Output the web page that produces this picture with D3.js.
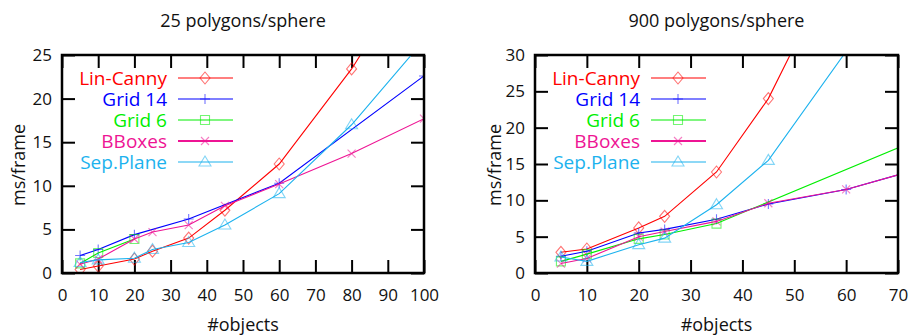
<!DOCTYPE html>
<html>
<head>
<meta charset="utf-8">
<script src="https://cdn.jsdelivr.net/npm/d3@7"></script>
<style>
  html, body { margin: 0; padding: 0; background: #fff; }
  svg { display: block; font-family: "Open Sans", "DejaVu Sans", sans-serif; }
</style>
</head>
<body>
<svg id="chart" width="910" height="336"></svg>
<script>
// ---- data: collision-detection cost per frame vs. number of objects ----
const seriesNames = ["Lin-Canny", "Grid 14", "Grid 6", "BBoxes", "Sep.Plane"];
const seriesColors = ["#ff0000", "#0000ff", "#00ee00", "#ee1494", "#1cb2ee"];
const seriesMarkers = ["diamond", "plus", "square", "cross", "triangle"];

// 25 polygons per sphere
const lowLinCannyX = [5, 10, 20, 25, 35, 45, 60, 80, 100];
const lowLinCannyY = [0.4, 0.8, 1.6, 2.5, 4.0, 7.2, 12.5, 23.4, 36.5];
const lowGrid14X = [5, 10, 20, 35, 60, 100];
const lowGrid14Y = [2.0, 2.7, 4.4, 6.2, 10.3, 22.6];
const lowGrid6X = [5, 10, 20];
const lowGrid6Y = [1.1, 2.3, 3.9];
const lowBBoxesX = [5, 10, 20, 25, 35, 45, 60, 80, 100];
const lowBBoxesY = [1.0, 1.6, 3.9, 4.7, 5.5, 7.7, 10.2, 13.7, 17.7];
const lowSepPlaneX = [5, 10, 20, 25, 35, 45, 60, 80, 100];
const lowSepPlaneY = [1.2, 1.5, 1.7, 2.7, 3.5, 5.5, 9.1, 17.0, 26.7];

// 900 polygons per sphere
const highLinCannyX = [5, 10, 20, 25, 35, 45, 60];
const highLinCannyY = [2.85, 3.3, 6.2, 7.8, 13.9, 24.0, 45.5];
const highGrid14X = [5, 10, 20, 25, 35, 45, 60, 80];
const highGrid14Y = [2.3, 3.0, 5.5, 6.0, 7.4, 9.5, 11.5, 15.5];
const highGrid6X = [5, 10, 20, 25, 35, 80];
const highGrid6Y = [1.6, 2.6, 4.7, 5.3, 6.8, 20.2];
const highBBoxesX = [5, 10, 20, 25, 35, 45, 60, 80];
const highBBoxesY = [1.3, 2.0, 5.0, 5.7, 7.1, 9.6, 11.5, 15.5];
const highSepPlaneX = [5, 10, 20, 25, 35, 45, 60];
const highSepPlaneY = [2.2, 1.6, 3.9, 4.8, 9.4, 15.5, 30.5];

// axis settings
const lowXTicks = [0, 10, 20, 30, 40, 50, 60, 70, 80, 90, 100];
const lowYTicks = [0, 5, 10, 15, 20, 25];
const highXTicks = [0, 10, 20, 30, 40, 50, 60, 70];
const highYTicks = [0, 5, 10, 15, 20, 25, 30];

const panels = [
  {
    id: "low", title: "25 polygons/sphere", left: 62, right: 424, top: 55, bottom: 273,
    xMax: 100, yMax: 25, xTicks: lowXTicks, yTicks: lowYTicks, yLabelOffset: 43,
    xs: [lowLinCannyX, lowGrid14X, lowGrid6X, lowBBoxesX, lowSepPlaneX],
    ys: [lowLinCannyY, lowGrid14Y, lowGrid6Y, lowBBoxesY, lowSepPlaneY]
  },
  {
    id: "high", title: "900 polygons/sphere", left: 535, right: 898, top: 55, bottom: 273,
    xMax: 70, yMax: 30, xTicks: highXTicks, yTicks: highYTicks, yLabelOffset: 40,
    xs: [highLinCannyX, highGrid14X, highGrid6X, highBBoxesX, highSepPlaneX],
    ys: [highLinCannyY, highGrid14Y, highGrid6Y, highBBoxesY, highSepPlaneY]
  }
];

// marker shapes, centred on the origin
function markerPath(kind) {
  const p = d3.path();
  switch (kind) {
    case "diamond":
      p.moveTo(0, -6); p.lineTo(5, 0); p.lineTo(0, 6); p.lineTo(-5, 0); p.closePath(); break;
    case "plus":
      p.moveTo(-5, 0); p.lineTo(5, 0); p.moveTo(0, -5); p.lineTo(0, 5); break;
    case "square":
      p.rect(-4.5, -4.5, 9, 9); break;
    case "cross":
      p.moveTo(-4, -4); p.lineTo(4, 4); p.moveTo(-4, 4); p.lineTo(4, -4); break;
    case "triangle":
      p.moveTo(0, -6); p.lineTo(6, 4); p.lineTo(-6, 4); p.closePath(); break;
  }
  return p.toString();
}

const svg = d3.select("#chart");
const defs = svg.append("defs");

panels.forEach(pn => {
  const x = d3.scaleLinear().domain([0, pn.xMax]).range([pn.left, pn.right]);
  const y = d3.scaleLinear().domain([0, pn.yMax]).range([pn.bottom, pn.top]);
  const g = svg.append("g");
  const cx = (pn.left + pn.right) / 2;

  defs.append("clipPath").attr("id", "clip-" + pn.id)
    .append("rect")
    .attr("x", pn.left).attr("y", pn.top)
    .attr("width", pn.right - pn.left).attr("height", pn.bottom - pn.top);

  // title and axis titles
  g.append("text").attr("x", cx).attr("y", 27).attr("text-anchor", "middle")
    .attr("font-size", 18).attr("fill", "#111").text(pn.title);
  g.append("text").attr("x", cx).attr("y", 331).attr("text-anchor", "middle")
    .attr("font-size", 18).attr("fill", "#111").text("#objects");
  g.append("text")
    .attr("transform", `translate(${pn.left - pn.yLabelOffset},${(pn.top + pn.bottom) / 2 + 1}) rotate(-90)`)
    .attr("text-anchor", "middle").attr("dy", "0.35em")
    .attr("font-size", 18).attr("fill", "#111").text("ms/frame");

  // axes with inward ticks on all four sides
  const styleAxis = sel => {
    sel.select(".domain").remove();
    sel.selectAll(".tick line").attr("stroke", "#000").attr("stroke-width", 2);
    sel.selectAll(".tick text").attr("font-size", 17).attr("fill", "#111")
      .style("font-family", "'Open Sans', sans-serif");
  };
  g.append("g").attr("transform", `translate(0,${pn.bottom})`)
    .call(d3.axisBottom(x).tickValues(pn.xTicks).tickSize(-13).tickPadding(16).tickFormat(d3.format("d")))
    .call(styleAxis);
  g.append("g").attr("transform", `translate(0,${pn.top})`)
    .call(d3.axisTop(x).tickValues(pn.xTicks).tickSize(-13).tickFormat(""))
    .call(styleAxis);
  g.append("g").attr("transform", `translate(${pn.left},0)`)
    .call(d3.axisLeft(y).tickValues(pn.yTicks).tickSize(-13).tickPadding(10).tickFormat(d3.format("d")))
    .call(styleAxis);
  g.append("g").attr("transform", `translate(${pn.right},0)`)
    .call(d3.axisRight(y).tickValues(pn.yTicks).tickSize(-13).tickFormat(""))
    .call(styleAxis);

  // series lines and markers
  const plot = g.append("g").attr("clip-path", `url(#clip-${pn.id})`);
  const line = d3.line().x(d => x(d[0])).y(d => y(d[1]));
  seriesNames.forEach((name, i) => {
    const pts = pn.xs[i].map((v, k) => [v, pn.ys[i][k]]);
    plot.append("path").datum(pts).attr("d", line)
      .attr("fill", "none").attr("stroke", seriesColors[i]).attr("stroke-width", 1.1);
    plot.selectAll(null).data(pts).enter().append("path")
      .attr("transform", d => `translate(${x(d[0])},${y(d[1])})`)
      .attr("d", markerPath(seriesMarkers[i]))
      .attr("fill", "none").attr("stroke", seriesColors[i])
      .attr("stroke-opacity", 0.55).attr("stroke-width", 1.1);
  });

  // legend
  const lg = g.append("g");
  seriesNames.forEach((name, i) => {
    const ry = pn.top + 23 + i * 21;
    lg.append("text").attr("x", pn.left + 105).attr("y", ry + 7)
      .attr("text-anchor", "end").attr("font-size", 19)
      .attr("fill", seriesColors[i]).text(name);
    lg.append("line")
      .attr("x1", pn.left + 116).attr("x2", pn.left + 171)
      .attr("y1", ry).attr("y2", ry)
      .attr("stroke", seriesColors[i]).attr("stroke-width", name === "BBoxes" ? 2 : 1.1);
    lg.append("path").attr("transform", `translate(${pn.left + 143},${ry})`)
      .attr("d", markerPath(seriesMarkers[i]))
      .attr("fill", "none").attr("stroke", seriesColors[i])
      .attr("stroke-opacity", 0.55).attr("stroke-width", 1.1);
  });

  // plot frame
  g.append("rect")
    .attr("x", pn.left).attr("y", pn.top)
    .attr("width", pn.right - pn.left).attr("height", pn.bottom - pn.top)
    .attr("fill", "none").attr("stroke", "#000").attr("stroke-width", 2.5);
});
</script>
</body>
</html>
